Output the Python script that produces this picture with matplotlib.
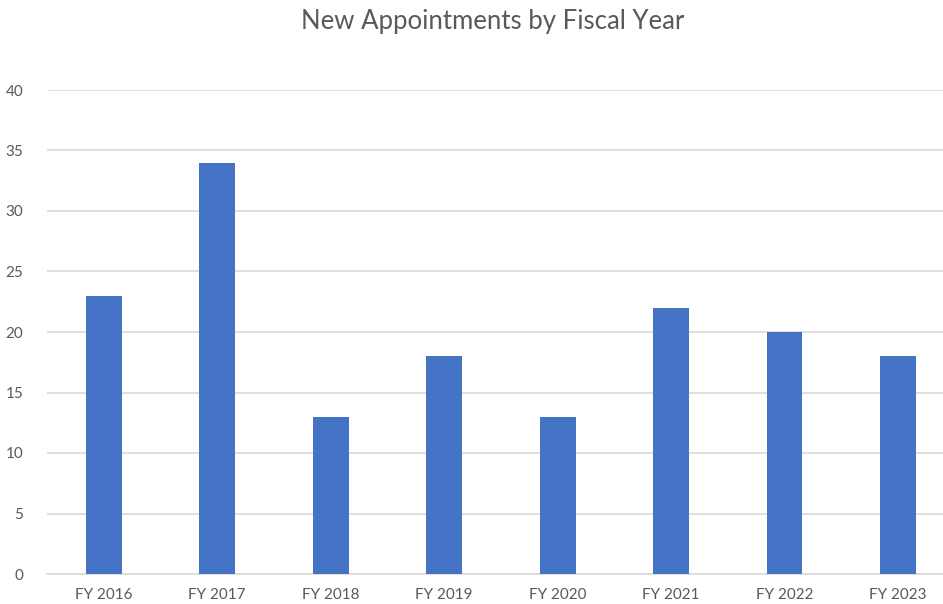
import matplotlib.pyplot as plt

years = ['FY 2016', 'FY 2017', 'FY 2018', 'FY 2019', 'FY 2020', 'FY 2021', 'FY 2022', 'FY 2023']
appointments = [23, 34, 13, 18, 13, 22, 20, 18]
y_ticks = [0, 5, 10, 15, 20, 25, 30, 35, 40]

plt.rcParams['font.family'] = ['Lato', 'DejaVu Sans']

fig = plt.figure(figsize=(9.43, 6.04), dpi=100)
ax = fig.add_axes([47 / 943, 30 / 604, 1 - 47 / 943, 484 / 604])

ax.bar(range(len(years)), appointments, width=0.317, color='#4472c4', zorder=3)

ax.set_xlim(-0.5, 7 + 45 / 113.4)
ax.set_ylim(0, 40)
ax.set_yticks(y_ticks)
ax.set_xticks(range(len(years)))
ax.set_xticklabels(years)
ax.grid(axis='y', color='#d9d9d9', linewidth=1.2, zorder=0)

for side in ['top', 'right', 'left']:
    ax.spines[side].set_visible(False)
ax.spines['bottom'].set_color('#d9d9d9')
ax.spines['bottom'].set_linewidth(1.2)

ax.tick_params(axis='both', length=0, labelsize=11, labelcolor='#595959')
ax.tick_params(axis='y', pad=17)
ax.tick_params(axis='x', pad=10)

fig.text(493 / 943, 1 - 21 / 604, 'New Appointments by Fiscal Year',
         ha='center', va='center', fontsize=18.5, color='#595959')

fig.savefig('out.png', dpi=100)
